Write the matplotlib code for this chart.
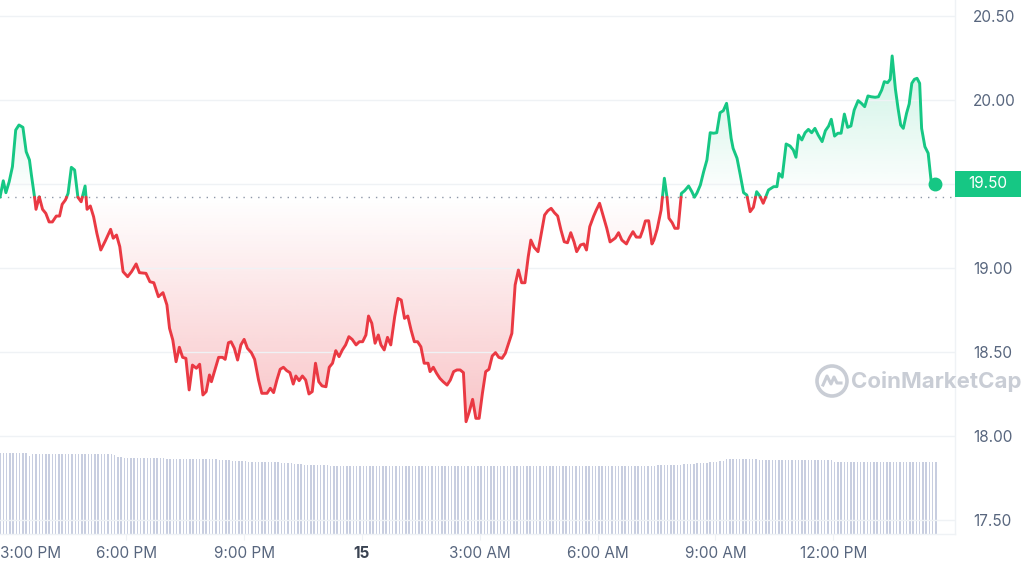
"""
CoinMarketCap style 24h price chart: price line coloured against the
opening price (green above, red below), gradient fill, and a strip of
volume bars at the bottom.
"""

import numpy as np
import pandas as pd
import matplotlib

matplotlib.use("Agg")
import matplotlib.pyplot as plt
from matplotlib.colors import to_rgb
from matplotlib.patches import Polygon, Rectangle, Ellipse
from matplotlib.lines import Line2D

plt.rcParams["font.family"] = ["Inter", "DejaVu Sans"]

START = pd.Timestamp("2023-06-14 14:47")

# minutes after START
minutes = [
    0, 5, 9, 14, 19, 24, 29, 35, 40, 45, 48, 53, 55, 60, 65, 70, 75, 80, 86, 91,
    95, 100, 104, 109, 114, 119, 124, 130, 133, 138, 143, 148, 154, 161, 169, 173, 178, 183, 188, 195,
    201, 208, 213, 223, 229, 235, 242, 249, 255, 259, 264, 269, 274, 279, 284, 289, 294, 300, 305, 310,
    315, 320, 323, 329, 334, 340, 344, 349, 353, 358, 363, 368, 373, 378, 384, 389, 395, 400, 408, 413,
    418, 423, 428, 433, 438, 443, 448, 452, 457, 462, 467, 472, 477, 482, 487, 492, 498, 503, 508, 513,
    518, 523, 528, 533, 538, 544, 549, 554, 559, 563, 568, 573, 578, 582, 587, 592, 597, 603, 608, 613,
    618, 623, 628, 633, 638, 643, 648, 654, 657, 662, 667, 672, 677, 683, 688, 693, 698, 703, 708, 712,
    717, 722, 727, 732, 737, 742, 747, 752, 757, 762, 767, 772, 777, 782, 787, 792, 797, 802, 807, 811,
    816, 822, 827, 832, 837, 842, 847, 852, 857, 862, 867, 872, 877, 881, 887, 892, 896, 901, 907, 911,
    916, 922, 927, 932, 940, 945, 950, 957, 962, 967, 972, 978, 982, 986, 991, 996, 999, 1004, 1010, 1015,
    1019, 1022, 1027, 1031, 1036, 1041, 1046, 1052, 1057, 1061, 1065, 1070, 1075, 1080, 1085, 1090, 1095, 1100, 1105, 1110,
    1113, 1117, 1120, 1126, 1131, 1136, 1141, 1146, 1151, 1156, 1161, 1166, 1174, 1182, 1187, 1190, 1195, 1201, 1207, 1212,
    1216, 1220, 1225, 1230, 1235, 1240, 1245, 1250, 1256, 1261, 1266, 1270, 1275, 1280, 1285, 1290, 1295, 1300, 1305, 1311,
    1316, 1321, 1326, 1331, 1337, 1342, 1347, 1351, 1356, 1360, 1363, 1368, 1372, 1376, 1380, 1385, 1389, 1393, 1397, 1401,
    1405, 1408, 1413, 1418, 1423, 1429,
]

# price in USD
prices = [
    19.423, 19.521, 19.450, 19.515, 19.605, 19.823, 19.853, 19.839, 19.694, 19.645,
    19.555, 19.417, 19.351, 19.426, 19.351, 19.327, 19.276, 19.276, 19.311, 19.311,
    19.381, 19.407, 19.446, 19.601, 19.585, 19.423, 19.396, 19.490, 19.351, 19.371,
    19.307, 19.208, 19.109, 19.164, 19.232, 19.179, 19.198, 19.129, 18.980, 18.950,
    18.980, 19.026, 18.974, 18.970, 18.920, 18.914, 18.831, 18.855, 18.782, 18.643,
    18.573, 18.444, 18.530, 18.470, 18.464, 18.276, 18.424, 18.405, 18.429, 18.246,
    18.266, 18.365, 18.325, 18.405, 18.470, 18.470, 18.458, 18.557, 18.563, 18.524,
    18.454, 18.544, 18.577, 18.524, 18.498, 18.458, 18.335, 18.256, 18.256, 18.286,
    18.260, 18.335, 18.399, 18.411, 18.391, 18.379, 18.311, 18.359, 18.331, 18.359,
    18.335, 18.252, 18.266, 18.435, 18.325, 18.300, 18.295, 18.411, 18.435, 18.510,
    18.474, 18.514, 18.544, 18.593, 18.577, 18.544, 18.563, 18.563, 18.603, 18.716,
    18.673, 18.554, 18.603, 18.544, 18.514, 18.589, 18.544, 18.712, 18.821, 18.811,
    18.702, 18.716, 18.633, 18.563, 18.563, 18.533, 18.435, 18.435, 18.385, 18.411,
    18.375, 18.345, 18.325, 18.305, 18.335, 18.385, 18.395, 18.395, 18.379, 18.087,
    18.147, 18.220, 18.107, 18.107, 18.256, 18.385, 18.399, 18.478, 18.498, 18.470,
    18.464, 18.494, 18.554, 18.613, 18.901, 18.990, 18.914, 18.914, 19.069, 19.168,
    19.125, 19.099, 19.208, 19.317, 19.343, 19.357, 19.331, 19.311, 19.228, 19.158,
    19.152, 19.212, 19.157, 19.099, 19.139, 19.145, 19.109, 19.248, 19.311, 19.347,
    19.387, 19.307, 19.238, 19.157, 19.180, 19.212, 19.168, 19.145, 19.185, 19.218,
    19.186, 19.185, 19.228, 19.282, 19.283, 19.145, 19.168, 19.234, 19.347, 19.536,
    19.423, 19.298, 19.271, 19.238, 19.238, 19.446, 19.462, 19.490, 19.456, 19.423,
    19.450, 19.496, 19.575, 19.645, 19.807, 19.804, 19.807, 19.926, 19.938, 19.982,
    19.902, 19.774, 19.714, 19.655, 19.555, 19.450, 19.436, 19.337, 19.363, 19.456,
    19.430, 19.387, 19.466, 19.486, 19.486, 19.565, 19.542, 19.740, 19.728, 19.704,
    19.661, 19.793, 19.764, 19.807, 19.827, 19.807, 19.833, 19.793, 19.754, 19.819,
    19.847, 19.887, 19.787, 19.804, 19.804, 19.918, 19.839, 19.847, 19.942, 19.998,
    19.982, 19.962, 20.026, 20.021, 20.018, 20.021, 20.061, 20.111, 20.105, 20.125,
    20.264, 20.065, 19.952, 19.853, 19.833, 19.923, 19.978, 20.101, 20.125, 20.131,
    20.101, 19.833, 19.724, 19.685, 19.502, 19.502,
]

# 24h volume, one bar every 5 minutes (arbitrary units)
volume = [
    84.6, 84.6, 84.6, 84.6, 84.6, 84.6, 84.6, 84.6, 84.6, 81.8, 83.9, 83.9, 83.9, 83.9, 83.9, 83.9,
    83.9, 83.9, 83.9, 83.9, 83.9, 83.9, 83.9, 83.9, 83.9, 83.9, 83.9, 83.9, 83.9, 83.9, 83.9, 83.9,
    83.9, 83.9, 83.9, 82.5, 81.0, 81.0, 79.4, 79.4, 79.4, 79.4, 79.4, 79.4, 79.4, 79.4, 79.4, 79.4,
    79.4, 79.4, 79.4, 78.6, 78.6, 78.6, 78.6, 78.6, 78.6, 78.6, 78.6, 78.6, 78.6, 78.6, 78.6, 78.6,
    78.6, 78.6, 78.6, 77.5, 77.5, 77.5, 77.5, 76.8, 76.8, 76.8, 76.8, 76.8, 75.8, 75.8, 75.8, 75.8,
    75.8, 75.0, 75.0, 75.0, 75.0, 75.0, 74.0, 74.0, 74.0, 74.0, 73.0, 73.0, 73.0, 72.3, 72.3, 72.3,
    72.3, 72.3, 72.3, 72.3, 72.3, 71.6, 71.6, 71.6, 71.6, 71.6, 71.6, 71.6, 71.6, 71.6, 71.6, 71.6,
    71.6, 71.6, 71.6, 71.6, 71.6, 71.6, 71.6, 71.6, 71.6, 71.6, 71.6, 71.6, 71.6, 71.6, 71.6, 71.6,
    71.6, 71.6, 71.6, 71.6, 71.6, 71.6, 71.6, 71.6, 71.6, 71.6, 71.6, 71.6, 71.6, 71.6, 71.6, 71.6,
    71.6, 71.6, 71.6, 71.6, 71.6, 71.6, 71.6, 71.6, 71.6, 71.6, 71.6, 71.6, 71.6, 71.6, 71.6, 71.6,
    71.6, 71.6, 71.6, 71.6, 71.6, 71.6, 71.6, 71.6, 71.6, 71.6, 71.6, 71.6, 71.6, 71.6, 71.6, 71.6,
    71.6, 71.6, 71.6, 71.6, 71.6, 71.6, 71.6, 71.6, 71.6, 71.6, 71.6, 71.6, 71.6, 71.6, 71.6, 71.6,
    71.6, 71.6, 71.6, 71.6, 71.6, 71.6, 71.6, 71.6, 71.6, 72.0, 72.0, 72.0, 72.0, 72.8, 72.8, 72.8,
    72.8, 73.6, 73.6, 73.6, 73.6, 74.5, 74.5, 74.5, 74.5, 75.8, 75.8, 75.8, 77.0, 77.0, 78.6, 78.6,
    78.6, 78.6, 78.6, 78.6, 78.6, 78.6, 78.6, 78.6, 78.1, 78.1, 78.1, 78.1, 78.1, 78.1, 78.1, 78.1,
    78.1, 77.3, 77.3, 77.3, 77.3, 77.3, 77.3, 77.3, 77.3, 77.3, 77.3, 77.3, 77.3, 77.3, 77.3, 75.5,
    75.5, 75.5, 75.5, 75.5, 75.5, 75.5, 75.5, 75.5, 75.5, 75.5, 75.5, 75.5, 75.5, 75.5, 75.5, 75.5,
    75.5, 75.5, 75.5, 75.5, 75.5, 75.5, 75.5, 75.5, 75.5, 75.5, 75.5, 75.5, 75.5, 75.5, 75.5,
]

tick_times = ["2023-06-14 18:00", "2023-06-14 21:00", "2023-06-15 00:00",
              "2023-06-15 03:00", "2023-06-15 06:00", "2023-06-15 09:00",
              "2023-06-15 12:00"]
tick_labels = ["6:00 PM", "9:00 PM", "15", "3:00 AM", "6:00 AM", "9:00 AM", "12:00 PM"]
price_ticks = [17.5, 18.0, 18.5, 19.0, 19.5, 20.0, 20.5]

GREEN = "#16c784"
RED = "#ea3943"
GRID = "#eff2f5"
LABEL = "#58667e"


def split_at_base(x, y, base):
    """Insert the points where the line crosses the base price."""
    xs, ys = [x[0]], [y[0]]
    for i in range(1, len(x)):
        y0, y1 = y[i - 1], y[i]
        if (y0 - base) * (y1 - base) < 0:
            f = (base - y0) / (y1 - y0)
            xs.append(x[i - 1] + f * (x[i] - x[i - 1]))
            ys.append(base)
        xs.append(x[i])
        ys.append(y1)
    return np.array(xs), np.array(ys)


def gradient_fill(ax, x, y, base, color, above, amax):
    if above:
        yy = np.maximum(y, base)
        lo, hi = base, yy.max()
        alphas = np.linspace(0.0, amax, 256)
    else:
        yy = np.minimum(y, base)
        lo, hi = yy.min(), base
        alphas = np.linspace(amax, 0.0, 256)
    verts = np.column_stack([np.r_[x[0], x, x[-1]], np.r_[base, yy, base]])
    poly = Polygon(verts, closed=True, facecolor="none", edgecolor="none")
    ax.add_patch(poly)
    img = np.zeros((256, 1, 4))
    img[..., :3] = to_rgb(color)
    img[:, 0, 3] = alphas
    im = ax.imshow(img, extent=[x[0], x[-1], lo, hi], origin="lower",
                   aspect="auto", zorder=1, interpolation="bilinear")
    im.set_clip_path(poly)


def main():
    t = np.array(minutes, dtype=float)
    p = np.array(prices)
    base = p[0]
    xs, ys = split_at_base(t, p, base)

    W, H = 1024, 571
    fig = plt.figure(figsize=(W / 100, H / 100), dpi=100)
    rect = [0, 37 / H, 955 / W, 534 / H]

    # volume strip
    axv = fig.add_axes(rect)
    axv.set_zorder(0)
    vx = np.arange(len(volume)) * 5.0
    axv.bar(vx, volume, width=2.3, color="#c8cee0", linewidth=0)
    axv.set_ylim(0, 560)
    axv.set_xlim(0, 1459)
    axv.axis("off")

    ax = fig.add_axes(rect)
    ax.set_zorder(1)
    ax.patch.set_alpha(0)
    ax.set_xlim(0, 1459)
    ax.set_ylim(17.4185, 20.597)

    gradient_fill(ax, xs, ys, base, GREEN, True, 0.22)
    gradient_fill(ax, xs, ys, base, RED, False, 0.30)

    up = np.where(ys >= base, ys, np.nan)
    dn = np.where(ys <= base, ys, np.nan)
    ax.plot(xs, up, color=GREEN, lw=2.1, solid_joinstyle="round",
            solid_capstyle="round", zorder=3)
    ax.plot(xs, dn, color=RED, lw=2.1, solid_joinstyle="round",
            solid_capstyle="round", zorder=3)
    ax.plot(t[-1], p[-1], "o", ms=9, color=GREEN, zorder=4)

    ax.axhline(base, color="#8e97a8", lw=1.0, ls=(0, (1, 4.3)), zorder=2)

    # axes styling
    ax.set_yticks(price_ticks)
    ax.set_yticklabels(["" if v == 19.5 else f"{v:.2f}" for v in price_ticks])
    ax.yaxis.tick_right()
    ax.tick_params(axis="y", length=0, pad=13, labelsize=11, labelcolor=LABEL)
    ax.grid(axis="y", color=GRID, lw=1, zorder=0)

    tick_pos = [(pd.Timestamp(s) - START) / pd.Timedelta(minutes=1) for s in tick_times]
    ax.set_xticks(tick_pos)
    ax.set_xticklabels(tick_labels)
    ax.tick_params(axis="x", length=4, color=GRID, pad=5, labelsize=11,
                   labelcolor=LABEL)
    for lbl in ax.get_xticklabels():
        if lbl.get_text() == "15":
            lbl.set_fontweight("bold")
            lbl.set_color("#3a4352")

    # first label is pushed against the left edge
    ax.text(0.0, -19 / 534, "3:00 PM", transform=ax.transAxes, ha="left",
            va="center", fontsize=11, color=LABEL)

    for side in ("top", "left"):
        ax.spines[side].set_visible(False)
    for side in ("right", "bottom"):
        ax.spines[side].set_color(GRID)
        ax.spines[side].set_linewidth(1)

    # last price badge
    fig.add_artist(Rectangle((955 / W, 1 - 197 / H), 66 / W, 26 / H,
                             transform=fig.transFigure, facecolor=GREEN,
                             edgecolor="none", zorder=5))
    fig.text(968 / W, 1 - 184 / H, f"{p[-1]:.2f}", color="white", fontsize=11,
             ha="left", va="center", zorder=6)

    # watermark
    wm = "#c9cdd5"
    fig.add_artist(Ellipse((832 / W, 1 - 381 / H), 30 / W, 30 / H,
                           transform=fig.transFigure, fill=False,
                           edgecolor=wm, lw=2.6, zorder=2))
    wx = np.array([-9, -5, -1, 2, 5, 9]) + 832
    wy = np.array([4, -5, 3, -4, 2, 2]) + 381
    fig.add_artist(Line2D(wx / W, 1 - wy / H, transform=fig.transFigure,
                          color=wm, lw=2.2, zorder=2))
    fig.text(851 / W, 1 - 382 / H, "CoinMarketCap", color=wm, fontsize=16,
             fontweight="bold", ha="left", va="center", zorder=2)

    fig.savefig("out.png", dpi=100)


if __name__ == "__main__":
    main()
